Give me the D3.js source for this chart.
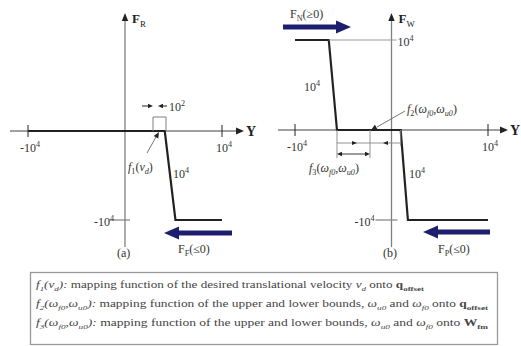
<!DOCTYPE html>
<html><head><meta charset="utf-8">
<script src="https://cdn.jsdelivr.net/npm/d3@7"></script>
<style>body{margin:0;background:#fff}svg{display:block}</style>
</head><body>
<script>
// Axis ticks shared by both panels
const tickValues = [-1e4, 1e4];
const tickBase = ["-10", "10"];
const tickExp = "4";

// (a) F_R step as a function of Y
const stepA_x = [-1e4, 4100, 5200, 1e4];
const stepA_y = [0, 0, -1e4, -1e4];
const levelsA = [-1e4];

// (b) F_W step as a function of Y
const stepB_x = [-1e4, -6500, -5650, 950, 1700, 1e4];
const stepB_y = [1e4, 1e4, 0, 0, -1e4, -1e4];
const levelsB = [1e4, -1e4];

const W = 521, H = 346;
const SERIF = "'Liberation Serif','DejaVu Serif',serif";
const AXIS = "#808080", INK = "#222", NAVY = "#1e1e6e";

const svg = d3.select("body").append("svg").attr("width", W).attr("height", H)
  .style("font-family", SERIF);
svg.append("rect").attr("width", W).attr("height", H).attr("fill", "#fff");

const xa = d3.scaleLinear().domain([-1e4, 1e4]).range([28, 222]);
const ya = d3.scaleLinear().domain([-1e4, 0]).range([220, 131]);
const xb = d3.scaleLinear().domain([-1e4, 1e4]).range([295, 488]);
const yb = d3.scaleLinear().domain([-1e4, 1e4]).range([220, 40]);

// text with italic / bold / sub / superscript runs
function rich(g, x, y, parts, size, attrs = {}) {
  const t = g.append("text").attr("x", x).attr("y", y).attr("font-size", size).attr("fill", attrs.fill || INK);
  if (attrs.anchor) t.attr("text-anchor", attrs.anchor);
  let off = 0;
  parts.forEach(p => {
    if (typeof p === "string") p = { t: p };
    const target = p.sub ? size * 0.28 : p.sup ? -size * 0.42 : 0;
    const ts = t.append("tspan").text(p.t).attr("dy", target - off);
    off = target;
    if (p.sub || p.sup) ts.attr("font-size", size * 0.68);
    if (p.i) ts.attr("font-style", "italic");
    if (p.b) ts.attr("font-weight", "bold");
  });
  if (attrs.len) t.attr("textLength", attrs.len).attr("lengthAdjust", "spacingAndGlyphs");
  return t;
}

function head(g, tipX, tipY, angle, len, half, color) {
  const a = angle * Math.PI / 180;
  const bx = tipX - len * Math.cos(a), by = tipY - len * Math.sin(a);
  const nx = -Math.sin(a) * half, ny = Math.cos(a) * half;
  g.append("path")
    .attr("d", `M${tipX},${tipY}L${bx + nx},${by + ny}L${bx - nx},${by - ny}Z`)
    .attr("fill", color);
}

function line(g, x1, y1, x2, y2, color, w) {
  g.append("line").attr("x1", x1).attr("y1", y1).attr("x2", x2).attr("y2", y2)
    .attr("stroke", color).attr("stroke-width", w);
}

function bigArrow(g, x0, x1, y) {
  const dir = x1 > x0 ? 1 : -1;
  line(g, x0, y, x1 - dir * 12, y, NAVY, 5);
  head(g, x1, y, dir > 0 ? 0 : 180, 15, 6.5, NAVY);
}

function panel(g, x, y, opt) {
  // horizontal axis
  line(g, opt.hx0, y(0), opt.hx1, y(0), AXIS, 1.3);
  head(g, opt.hx1 + 6, y(0), 0, 8, 3.5, INK);
  g.append("text").attr("x", opt.hx1 + 8).attr("y", y(0) + 5).attr("font-size", 14)
    .attr("font-weight", "bold").attr("fill", INK).text("Y");
  // vertical axis
  line(g, x(0), 247, x(0), 20, AXIS, 1.3);
  head(g, x(0), 13, -90, 8, 3.2, INK);
  rich(g, x(0) + 7, 23, [{ t: "F", b: true }, { t: opt.fsub, sub: true }], 13);
  // x ticks
  g.selectAll(null).data(tickValues).join("line")
    .attr("x1", d => x(d)).attr("x2", d => x(d))
    .attr("y1", y(0) - 6).attr("y2", y(0) + 6)
    .attr("stroke", INK).attr("stroke-width", 1);
  tickValues.forEach((d, i) => {
    rich(g, x(d) + (i === 0 ? -8 : -6), y(0) + 21, [tickBase[i], { t: tickExp, sup: true }], 12, { fill: "#333" });
  });
  // step curve
  const pts = opt.sx.map((v, i) => [x(v), y(opt.sy[i])]);
  g.append("path").attr("d", d3.line()(pts)).attr("fill", "none")
    .attr("stroke", INK).attr("stroke-width", 2.2).attr("stroke-linejoin", "miter");
}

// ---------- panel (a) ----------
const ga = svg.append("g");
panel(ga, xa, ya, { hx0: 10, hx1: 238, fsub: "R", sx: stepA_x, sy: stepA_y });
levelsA.forEach(v => {
  line(ga, xa(0) - 16, ya(v), xa(0) + 5, ya(v), AXIS, 1.2);
  rich(ga, xa(0) - 31, ya(v) + 6, ["-10", { t: "4", sup: true }], 12, { fill: "#333" });
});
// 10^2 width marker
line(ga, 153, 117, 166, 117, AXIS, 1);
line(ga, 153, 117, 153, ya(0), AXIS, 1);
line(ga, 166, 117, 166, ya(0), AXIS, 1);
line(ga, 142, 106, 148, 106, INK, 1);
head(ga, 153, 106, 0, 5, 2.2, INK);
line(ga, 167, 106, 163, 106, INK, 1);
head(ga, 158, 106, 180, 5, 2.2, INK);
rich(ga, 169, 111, ["10", { t: "2", sup: true }], 12, { fill: "#333" });
// f1 leader
line(ga, 147, 153, 156, 137, "#666", 0.9);
head(ga, 159, 132, -60, 6, 2.6, INK);
rich(ga, 128, 171, [{ t: "f", i: true }, { t: "1", sub: true }, "(", { t: "v", i: true }, { t: "d", sub: true, i: true }, ")"], 12, { fill: "#333" });
rich(ga, 173, 178, ["10", { t: "4", sup: true }], 12, { fill: "#333" });
bigArrow(ga, 232, 164, 233);
rich(ga, 178, 253, ["F", { t: "F", sub: true }, "(≤0)"], 12, { fill: "#333" });
ga.append("text").attr("x", 117).attr("y", 257).attr("font-size", 12).attr("fill", "#333").text("(a)");

// ---------- panel (b) ----------
const gb = svg.append("g");
panel(gb, xb, yb, { hx0: 278, hx1: 502, fsub: "W", sx: stepB_x, sy: stepB_y });
// level guides
line(gb, xb(stepB_x[1]), yb(levelsB[0]), xb(0) + 5, yb(levelsB[0]), "#999", 1);
rich(gb, xb(0) + 6, yb(levelsB[0]) + 6, ["10", { t: "4", sup: true }], 12, { fill: "#333" });
line(gb, xb(0) - 16, yb(levelsB[1]), xb(0) + 6, yb(levelsB[1]), AXIS, 1.2);
rich(gb, xb(0) - 37, yb(levelsB[1]) + 6, ["-10", { t: "4", sup: true }], 12, { fill: "#333" });
rich(gb, 304, 91, ["10", { t: "4", sup: true }], 12, { fill: "#333" });
rich(gb, 409, 178, ["10", { t: "4", sup: true }], 12, { fill: "#333" });
// bounds markers below the axis
const bL = xb(stepB_x[2]), bR = xb(stepB_x[3]), bM = 370;
line(gb, bL, yb(0), bL, 158, "#888", 0.9);
line(gb, bM, yb(0), bM, 158, "#888", 0.9);
line(gb, bR, yb(0), bR, 146, "#888", 0.9);
line(gb, bL, 143, bR, 143, "#888", 0.9);
head(gb, 357, 143, 0, 5, 2, INK);
head(gb, 383, 143, 180, 5, 2, INK);
line(gb, bL + 2, 154, bM - 2, 154, INK, 0.9);
head(gb, bL, 154, 180, 5, 2.2, INK);
head(gb, bM, 154, 0, 5, 2.2, INK);
rich(gb, 309, 172, [{ t: "f", i: true }, { t: "3", sub: true }, "(", { t: "ω", i: true }, { t: "f0", sub: true, i: true }, ",", { t: "ω", i: true }, { t: "u0", sub: true, i: true }, ")"], 12, { fill: "#333" });
// f2 leader
line(gb, 405, 111, 377, 127, "#666", 0.9);
head(gb, 371, 130, 150, 6, 2.6, INK);
rich(gb, 407, 113, [{ t: "f", i: true }, { t: "2", sub: true }, "(", { t: "ω", i: true }, { t: "f0", sub: true, i: true }, ",", { t: "ω", i: true }, { t: "u0", sub: true, i: true }, ")"], 12, { fill: "#333" });
// force arrows
bigArrow(gb, 283, 351, 27);
rich(gb, 290, 18, ["F", { t: "N", sub: true }, "(≥0)"], 12, { fill: "#333" });
bigArrow(gb, 490, 423, 232);
rich(gb, 438, 253, ["F", { t: "P", sub: true }, "(≤0)"], 12, { fill: "#333" });
gb.append("text").attr("x", 383).attr("y", 257).attr("font-size", 12).attr("fill", "#333").text("(b)");

// ---------- notes box ----------
const gn = svg.append("g");
gn.append("rect").attr("x", 30.5).attr("y", 272.5).attr("width", 467).attr("height", 72)
  .attr("fill", "#fff").attr("stroke", "#999").attr("stroke-width", 1.3);
const NC = "#444";
rich(gn, 36, 288, [{ t: "f", i: true }, { t: "1", sub: true, i: true }, { t: "(v", i: true }, { t: "d", sub: true, i: true }, { t: "): ", i: true },
  "mapping function of the desired translational velocity ", { t: "v", i: true }, { t: "d", sub: true, i: true }, " onto ",
  { t: "q", b: true }, { t: "offset", sub: true, b: true }], 9.5, { fill: NC, len: 388 });
rich(gn, 36, 307, [{ t: "f", i: true }, { t: "2", sub: true, i: true }, { t: "(ω", i: true }, { t: "f0", sub: true, i: true }, { t: ",ω", i: true }, { t: "u0", sub: true, i: true }, { t: "): ", i: true },
  "mapping function of the upper and lower bounds, ", { t: "ω", i: true }, { t: "u0", sub: true, i: true }, " and ", { t: "ω", i: true }, { t: "f0", sub: true, i: true }, " onto ",
  { t: "q", b: true }, { t: "offset", sub: true, b: true }], 9.5, { fill: NC, len: 452 });
rich(gn, 36, 326, [{ t: "f", i: true }, { t: "3", sub: true, i: true }, { t: "(ω", i: true }, { t: "f0", sub: true, i: true }, { t: ",ω", i: true }, { t: "u0", sub: true, i: true }, { t: "): ", i: true },
  "mapping function of the upper and lower bounds, ", { t: "ω", i: true }, { t: "u0", sub: true, i: true }, " and ", { t: "ω", i: true }, { t: "f0", sub: true, i: true }, " onto ",
  { t: "W", b: true }, { t: "fm", sub: true, b: true }], 9.5, { fill: NC, len: 452 });
</script>
</body></html>
